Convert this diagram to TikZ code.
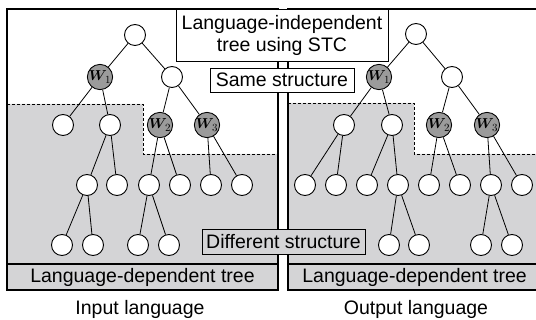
\documentclass[tikz,border=0pt]{standalone}
\usepackage{amsmath}
\usepackage{fontspec}
\setmainfont{Liberation Sans}
\definecolor{regiongray}{RGB}{212,212,214}
\definecolor{wgray}{RGB}{155,155,155}
\tikzset{
  leaf/.style={draw,circle,fill=white,minimum size=21pt,inner sep=0pt,line width=0.9pt},
  wnode/.style={leaf,fill=wgray},
  edge/.style={draw,-,line width=0.8pt},
  frame/.style={line width=1.1pt},
  cut/.style={line width=0.8pt,dash pattern=on 3pt off 2pt},
  textbox/.style={draw,line width=0.9pt,inner sep=0pt,font=\fontsize{19.5}{22}\selectfont}
}
\begin{document}
\begin{tikzpicture}[x=1pt,y=-1pt]
  \useasboundingbox (0,0) rectangle (536,320);
  \def \LeftNodes{
    l0/135/35, l2/172/77,
    l3/63/125, l4/110/125,
    l7/87/185, l8/117/185, l9/149/185, l10/180/185, l11/211/185, l12/242/185,
    l13/62/245, l14/93/245, l15/138/245, l16/169/245}
  \def \LeftW{
    l1/100/77/1,
    l5/160/125/2,
    l6/207/125/3}
  \def \LeftEdges{
    l0/l1, l0/l2,
    l1/l3, l1/l4,
    l2/l5, l2/l6,
    l4/l7, l4/l8,
    l5/l9, l5/l10,
    l6/l11, l6/l12,
    l7/l13, l7/l14,
    l9/l15, l9/l16}
  \def \RightNodes{
    r0/416/34, r2/452/77,
    r3/344/125, r4/392/125,
    r7/305/185, r8/336/185, r9/367/185, r10/398/185,
    r11/429/185, r12/460/185, r13/491/185, r14/522/185,
    r15/389/245, r16/419/245, r17/481/245, r18/512/245}
  \def \RightW{
    r1/379/77/1,
    r5/439/125/2,
    r6/487/125/3}
  \def \RightEdges{
    r0/r1, r0/r2,
    r1/r3, r1/r4,
    r2/r5, r2/r6,
    r3/r7, r3/r8,
    r4/r9, r4/r10,
    r5/r11, r5/r12,
    r6/r13, r6/r14,
    r10/r15, r10/r16,
    r13/r17, r13/r18}
  % panels
  \fill[regiongray] (7,104) -- (143,104) -- (143,154) -- (278,154) -- (278,290) -- (7,290) -- cycle;
  \fill[regiongray] (288,103) -- (414,103) -- (414,154) -- (536,154) -- (536,290) -- (288,290) -- cycle;
  \draw[cut] (7,104) -- (143,104) -- (143,154) -- (278,154);
  \draw[cut] (288,103) -- (414,103) -- (414,154) -- (536,154);
  \draw[frame] (7,9) rectangle (278,290);
  \draw[frame] (536,9) -- (288,9) -- (288,290) -- (536,290);
  % trees
  \foreach \id / \x / \y in \LeftNodes{
    \node[leaf] (\id) at (\x, \y) {};
  }
  \foreach \id / \x / \y / \k in \LeftW{
    \node[wnode] (\id) at (\x, \y) {\fontsize{15}{15}\selectfont$\boldsymbol{W}_{\!\k}$};
  }
  \foreach \id / \x / \y in \RightNodes{
    \node[leaf] (\id) at (\x, \y) {};
  }
  \foreach \id / \x / \y / \k in \RightW{
    \node[wnode] (\id) at (\x, \y) {\fontsize{15}{15}\selectfont$\boldsymbol{W}_{\!\k}$};
  }
  \foreach \x / \y in \LeftEdges{
    \path[edge] (\x) -- (\y);
  }
  \foreach \x / \y in \RightEdges{
    \path[edge] (\x) -- (\y);
  }
  % labels
  \node[textbox,fill=white,align=center,minimum width=212pt,minimum height=52pt] (indep) at (282,35) {Language-independent\\tree using STC};
  \node[textbox,fill=white,minimum width=144pt,minimum height=24pt] (same) at (282,80) {Same structure};
  \node[textbox,fill=regiongray,minimum width=163pt,minimum height=25pt] (diff) at (283.5,241.5) {Different structure};
  \node[textbox,fill=regiongray,line width=1.1pt,minimum width=271pt,minimum height=26pt] (ldepL) at (142.5,277) {Language-dependent tree};
  \node[textbox,fill=regiongray,line width=1.1pt,minimum width=252pt,minimum height=26pt,anchor=west] (ldepR) at (288,277) {Language-dependent tree};
  \node[font=\fontsize{19.5}{22}\selectfont] (inlang) at (140,309) {Input language};
  \node[font=\fontsize{19.5}{22}\selectfont] (outlang) at (416,309) {Output language};
\end{tikzpicture}
\end{document}
